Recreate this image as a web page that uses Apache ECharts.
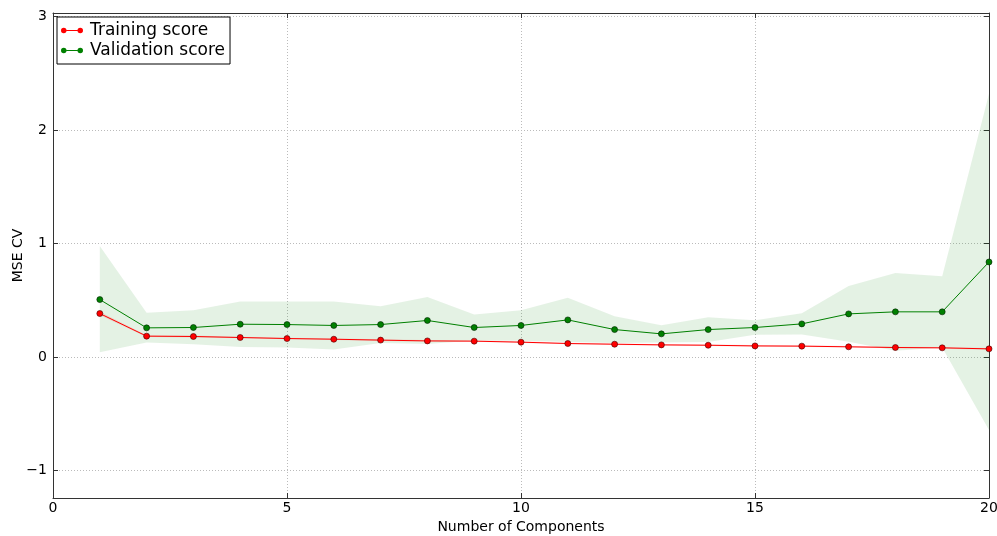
<!DOCTYPE html>
<html>
<head>
<meta charset="utf-8">
<script src="https://cdn.jsdelivr.net/npm/echarts@6/dist/echarts.min.js"></script>
<style>
html,body{margin:0;padding:0;background:#fff;}
#chart{width:997px;height:536px;}
</style>
</head>
<body>
<div id="chart"></div>
<script>
const components = [1,2,3,4,5,6,7,8,9,10,11,12,13,14,15,16,17,18,19,20];
const trainMean  = [0.384,0.185,0.182,0.173,0.164,0.158,0.150,0.143,0.141,0.132,0.120,0.114,0.108,0.105,0.099,0.097,0.091,0.085,0.082,0.073];
const trainUpper = [0.400,0.193,0.190,0.180,0.171,0.165,0.157,0.150,0.147,0.139,0.127,0.121,0.115,0.112,0.106,0.104,0.098,0.092,0.089,0.080];
const trainLower = [0.368,0.177,0.174,0.166,0.157,0.151,0.143,0.136,0.135,0.125,0.113,0.107,0.101,0.098,0.092,0.090,0.084,0.078,0.075,0.066];
const valMean  = [0.507,0.258,0.261,0.290,0.287,0.279,0.287,0.323,0.261,0.279,0.328,0.243,0.205,0.243,0.261,0.293,0.381,0.399,0.399,0.838];
const valUpper = [0.979,0.390,0.413,0.490,0.490,0.490,0.449,0.530,0.375,0.413,0.522,0.361,0.281,0.352,0.325,0.387,0.627,0.741,0.712,2.319];
const valLower = [0.044,0.129,0.114,0.090,0.084,0.068,0.125,0.116,0.147,0.145,0.134,0.125,0.129,0.134,0.197,0.199,0.135,0.057,0.086,-0.642];
const xTicks = [0,5,10,15,20];
const yTicks = [-1,0,1,2,3];

const FONT = 'DejaVu Sans';
const pairs = (xs, ys) => xs.map((x,i)=>[x, ys[i]]);
const minus = v => String(v).replace('-', '\u2212');

function bandSeries(upper, lower, fill, z) {
  return {
    type: 'custom',
    silent: true,
    z: z,
    data: [0],
    encode: {x: 0, y: 0},
    renderItem: function (params, api) {
      const pts = [];
      for (let i = 0; i < components.length; i++) pts.push(api.coord([components[i], upper[i]]));
      for (let i = components.length - 1; i >= 0; i--) pts.push(api.coord([components[i], lower[i]]));
      return {type: 'polygon', shape: {points: pts}, style: {fill: fill, stroke: null}};
    }
  };
}

const legendIcon = 'path://M0,4A3,3,0,1,1,6,4A3,3,0,1,1,0,4Z M18,4A3,3,0,1,1,24,4A3,3,0,1,1,18,4Z M6,3.5L18,3.5L18,4.5L6,4.5Z';
const axisLineStyle = {color: '#333', width: 1};

const chart = echarts.init(document.getElementById('chart'), null, {renderer: 'canvas'});
chart.setOption({
  animation: false,
  backgroundColor: '#ffffff',
  textStyle: {fontFamily: FONT},
  grid: {left: 53, right: 8, top: 13, bottom: 38, containLabel: false, outerBoundsMode: 'none'},
  legend: {
    left: 57, top: 17,
    orient: 'vertical',
    backgroundColor: '#fff',
    borderColor: '#000', borderWidth: 1, borderRadius: 0,
    padding: [5, 5, 5, 4],
    itemWidth: 22, itemHeight: 7, itemGap: 3,
    icon: legendIcon,
    textStyle: {fontFamily: FONT, fontSize: 17, color: '#000', padding: [0,0,0,2]},
    data: [
      {name: 'Training score', itemStyle: {color: '#ff0000', borderWidth: 0}},
      {name: 'Validation score', itemStyle: {color: '#008000', borderWidth: 0}}
    ]
  },
  xAxis: [{
    type: 'value', min: 0, max: 20, interval: 5,
    name: 'Number of Components', nameLocation: 'middle', nameGap: 22,
    nameTextStyle: {fontFamily: FONT, fontSize: 14, color: '#000'},
    axisLine: {show: true, onZero: false, lineStyle: axisLineStyle},
    axisTick: {show: true, inside: true, length: 5, lineStyle: {color: '#333'}},
    axisLabel: {fontFamily: FONT, fontSize: 14, color: '#000', margin: 3},
    splitLine: {show: true, lineStyle: {color: '#bbbbbb', type: [1,2], width: 1}}
  }, {
    type: 'value', min: 0, max: 20, interval: 5, position: 'top',
    axisLine: {show: true, onZero: false, lineStyle: axisLineStyle},
    axisTick: {show: true, inside: true, length: 5, lineStyle: {color: '#333'}},
    axisLabel: {show: false}, splitLine: {show: false}
  }],
  yAxis: [{
    type: 'value', min: -1.24, max: 3.03,
    name: 'MSE CV', nameLocation: 'middle', nameGap: 28, nameRotate: 90, nameMoveOverlap: false,
    nameTextStyle: {fontFamily: FONT, fontSize: 14, color: '#000'},
    axisLine: {show: true, onZero: false, lineStyle: axisLineStyle},
    axisTick: {show: true, inside: true, length: 5, customValues: yTicks, lineStyle: {color: '#333'}},
    axisLabel: {fontFamily: FONT, fontSize: 14, color: '#000', margin: 6, customValues: yTicks, formatter: v => minus(v)},
    splitLine: {show: true, lineStyle: {color: '#bbbbbb', type: [1,2], width: 1}}
  }, {
    type: 'value', min: -1.24, max: 3.03, position: 'right',
    axisLine: {show: true, onZero: false, lineStyle: axisLineStyle},
    axisTick: {show: true, inside: true, length: 5, customValues: yTicks, lineStyle: {color: '#333'}},
    axisLabel: {show: false, customValues: yTicks}, splitLine: {show: false}
  }],
  series: [
    bandSeries(valUpper, valLower, 'rgba(0,128,0,0.105)', 1),
    bandSeries(trainUpper, trainLower, 'rgba(255,0,0,0.12)', 2),
    {
      name: 'Training score', type: 'line', z: 4,
      data: pairs(components, trainMean),
      symbol: 'circle', symbolSize: 6,
      lineStyle: {color: '#ff0000', width: 1},
      itemStyle: {color: '#ff0000', borderColor: '#400000', borderWidth: 0.6},
      emphasis: {disabled: true}
    },
    {
      name: 'Validation score', type: 'line', z: 3,
      data: pairs(components, valMean),
      symbol: 'circle', symbolSize: 6,
      lineStyle: {color: '#008000', width: 1},
      itemStyle: {color: '#008000', borderColor: '#002000', borderWidth: 0.6},
      emphasis: {disabled: true}
    }
  ]
});
</script>
</body>
</html>
